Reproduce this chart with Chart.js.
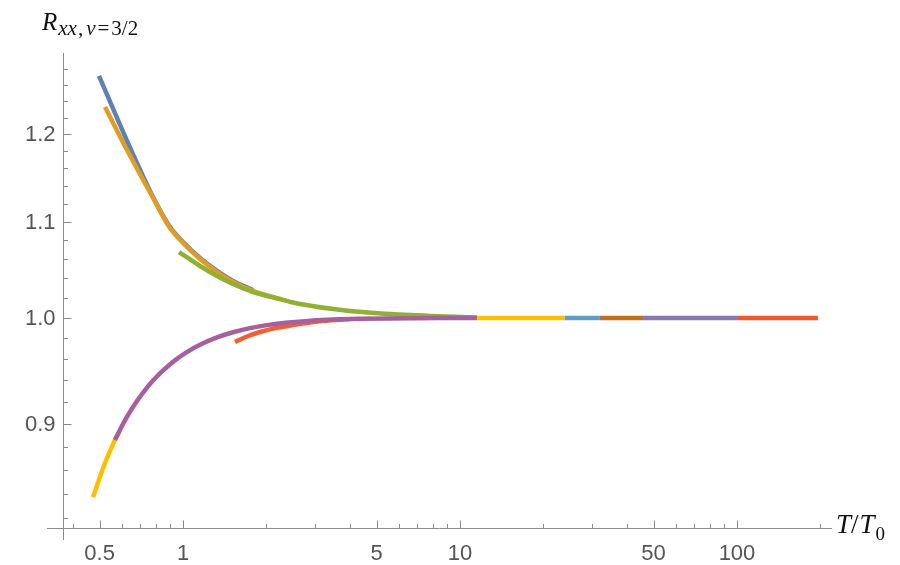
<!DOCTYPE html>
<html>
<head>
<meta charset="utf-8">
<title>R_xx vs T/T0</title>
<script src="https://cdn.jsdelivr.net/npm/chart.js@4/dist/chart.umd.min.js"></script>
<style>
  html, body { margin: 0; padding: 0; background: #ffffff; }
  #wrap { width: 900px; height: 565px; position: relative; }
  canvas { display: block; }
</style>
</head>
<body>
<div id="wrap"><canvas id="c" width="900" height="565"></canvas></div>
<script>
// ---- curve data: temperature T/T0 and resistance R_xx at nu = 3/2 ----
// upper branch (R > 1)
const blueT   = [0.4973, 0.628, 0.7727, 0.8976, 1.0, 1.1518, 1.3268, 1.5153, 1.7893];
const blueR   = [1.2716, 1.1921, 1.1298, 1.0945, 1.0784, 1.0614, 1.0478, 1.0374, 1.0282];
const orangeT = [0.5229, 0.628, 0.7727, 0.8976, 1.0, 1.1518, 1.3268, 1.5153, 1.7893, 2.2395];
const orangeR = [1.2330, 1.1814, 1.1287, 1.0934, 1.0773, 1.0603, 1.0467, 1.0364, 1.0272, 1.0190];
const greenT  = [0.9673, 1.1518, 1.3268, 1.5153, 1.7893, 2.2395, 2.645, 4.008, 6.073, 10.0, 11.52];
const greenR  = [1.0677, 1.0530, 1.0426, 1.0343, 1.0261, 1.0190, 1.0140, 1.0070, 1.0035, 1.0010, 1.0005];
// lower branch (R < 1)
const yellowT  = [0.473, 0.52, 0.568, 0.59];
const yellowR  = [0.837, 0.8645, 0.886, 0.894];
const magentaT = [0.568, 0.622, 0.682, 0.75, 0.806, 0.875, 0.951, 1.05, 1.152, 1.327, 1.515, 1.745, 2.01, 2.4, 2.9, 3.5, 4.3, 5.5, 7.0, 9.0, 11.52];
const magentaR = [0.886, 0.9049, 0.9209, 0.9349, 0.9439, 0.9526, 0.9603, 0.9679, 0.9738, 0.9809, 0.98595, 0.9900, 0.99296, 0.99557, 0.9974, 0.99851, 0.99921, 0.99964, 0.99984, 0.99993, 1.0];
const redT = [1.541, 1.7, 1.897, 2.1, 2.4, 2.7, 3.2, 4.0];
const redR = [0.9765, 0.9818, 0.9862, 0.9893, 0.9922, 0.9945, 0.9972, 0.9989];
// high-temperature pieces, all at R = 1
const tailYellowT = [11.52, 23.9];  const tailYellowR = [1.0, 1.0];
const tailCyanT   = [23.9, 32.0];   const tailCyanR   = [1.0, 1.0];
const tailBrownT  = [32.0, 45.8];   const tailBrownR  = [1.0, 1.0];
const tailPurpleT = [45.8, 100.8];  const tailPurpleR = [1.0, 1.0];
const tailRedT    = [100.8, 196.0]; const tailRedR    = [1.0, 1.0];

// ---- axis ticks ----
const xMajorTicks  = [0.5, 1, 5, 10, 50, 100];
const xMajorLabels = ['0.5', '1', '5', '10', '50', '100'];
const xMinorTicks  = [0.4, 0.6, 0.7, 0.8, 0.9, 2, 3, 4, 6, 7, 8, 9, 20, 30, 40, 60, 70, 80, 90, 200];
const yMajorTicks  = [0.9, 1.0, 1.1, 1.2];
const yMajorLabels = ['0.9', '1.0', '1.1', '1.2'];
const yMinorTicks  = [0.82, 0.84, 0.86, 0.88, 0.92, 0.94, 0.96, 0.98, 1.02, 1.04, 1.06, 1.08, 1.12, 1.14, 1.16, 1.18, 1.22, 1.24, 1.26, 1.28];

// ---- plot range and axis crossing ----
const X_MIN = 0.3228, X_MAX = 220.3;
const Y_MIN = 0.8023, Y_MAX = 1.3008;
const CROSS_T = 0.3687;   // where the vertical axis sits
const CROSS_R = 0.8118;   // where the horizontal axis sits

const pts = (ts, rs) => ts.map((t, i) => ({ x: t, y: rs[i] }));

function curve(ts, rs, color, order) {
  return {
    data: pts(ts, rs),
    borderColor: color,
    backgroundColor: color,
    borderWidth: 4.5,
    borderCapStyle: 'butt',
    borderJoinStyle: 'round',
    pointRadius: 0,
    fill: false,
    cubicInterpolationMode: 'monotone',
    order: order
  };
}

const datasets = [
  curve(blueT, blueR, '#5E81B5', 12),
  curve(orangeT, orangeR, '#E19C24', 11),
  curve(greenT, greenR, '#8FB032', 10),
  curve(yellowT, yellowR, '#FFBF00', 9),
  curve(redT, redR, '#EB6235', 8),
  curve(magentaT, magentaR, '#A5609D', 7),
  curve(tailYellowT, tailYellowR, '#FFBF00', 5),
  curve(tailCyanT, tailCyanR, '#5D9EC7', 4),
  curve(tailBrownT, tailBrownR, '#C56E1A', 3),
  curve(tailPurpleT, tailPurpleR, '#8778B3', 2),
  curve(tailRedT, tailRedR, '#EB5A2A', 1)
];

// Mathematica-style crossing axes with inward ticks and math-style axis labels
const AXIS_COLOR = '#8a8a8a';
const TICK_TEXT = '#555555';
const SERIF = '"Liberation Serif", "Times New Roman", serif';

// glyph runs for the two axis titles: [text, font, gap after, baseline shift]
const yTitleRun = [
  ['R', 'italic 25px ' + SERIF, 1, 0],
  ['xx', 'italic 21px ' + SERIF, 1, 5],
  [',', '21px ' + SERIF, 3, 5],
  ['ν', 'italic 21px ' + SERIF, 2, 5],
  ['=', '21px ' + SERIF, 2, 5],
  ['3/2', '21px ' + SERIF, 0, 5]
];
const xTitleRun = [
  ['T', 'italic 27px ' + SERIF, 0, 0],
  ['/', '27px ' + SERIF, 1, 0],
  ['T', 'italic 27px ' + SERIF, 1, 0],
  ['0', '19px ' + SERIF, 0, 7]
];

function drawRun(ctx, run, x0, y0) {
  let cx = x0;
  run.forEach(([t, font, gap, dy]) => {
    ctx.font = font;
    ctx.fillText(t, cx, y0 + dy);
    cx += ctx.measureText(t).width + gap;
  });
}

const axesPlugin = {
  id: 'crossAxes',
  beforeDatasetsDraw(chart) {
    const { ctx, scales: { x, y } } = chart;
    const ax = Math.round(x.getPixelForValue(CROSS_T)) + 0.5;
    const ay = Math.round(y.getPixelForValue(CROSS_R)) + 0.5;
    ctx.save();
    ctx.strokeStyle = AXIS_COLOR;
    ctx.lineWidth = 1;
    ctx.beginPath();
    ctx.moveTo(x.left, ay); ctx.lineTo(x.right, ay);
    ctx.moveTo(ax, y.top); ctx.lineTo(ax, y.bottom);
    // x ticks point up, y ticks point right
    xMajorTicks.forEach(v => { const px = Math.round(x.getPixelForValue(v)) + 0.5; ctx.moveTo(px, ay); ctx.lineTo(px, ay - 8); });
    xMinorTicks.forEach(v => { const px = Math.round(x.getPixelForValue(v)) + 0.5; ctx.moveTo(px, ay); ctx.lineTo(px, ay - 4.5); });
    yMajorTicks.forEach(v => { const py = Math.round(y.getPixelForValue(v)) + 0.5; ctx.moveTo(ax, py); ctx.lineTo(ax + 8, py); });
    yMinorTicks.forEach(v => { const py = Math.round(y.getPixelForValue(v)) + 0.5; ctx.moveTo(ax, py); ctx.lineTo(ax + 4.5, py); });
    ctx.stroke();

    // tick labels
    ctx.fillStyle = TICK_TEXT;
    ctx.font = '22px "Liberation Sans", Arial, sans-serif';
    ctx.textAlign = 'center';
    ctx.textBaseline = 'middle';
    xMajorTicks.forEach((v, i) => ctx.fillText(xMajorLabels[i], x.getPixelForValue(v), ay + 25));
    ctx.textAlign = 'right';
    yMajorTicks.forEach((v, i) => ctx.fillText(yMajorLabels[i], ax - 8, y.getPixelForValue(v) + 1));

    // axis titles
    ctx.fillStyle = '#111111';
    ctx.textAlign = 'left';
    ctx.textBaseline = 'alphabetic';
    drawRun(ctx, yTitleRun, 42, 30);
    drawRun(ctx, xTitleRun, 836, 533);
    ctx.restore();
  }
};

new Chart(document.getElementById('c'), {
  type: 'line',
  data: { datasets },
  options: {
    responsive: false,
    animation: false,
    events: [],
    layout: { padding: { left: 47, right: 68, top: 53, bottom: 25 } },
    plugins: { legend: { display: false }, tooltip: { enabled: false } },
    scales: {
      x: { type: 'logarithmic', min: X_MIN, max: X_MAX, bounds: 'data', display: false },
      y: { type: 'logarithmic', min: Y_MIN, max: Y_MAX, bounds: 'data', display: false }
    }
  },
  plugins: [axesPlugin]
});
</script>
</body>
</html>
